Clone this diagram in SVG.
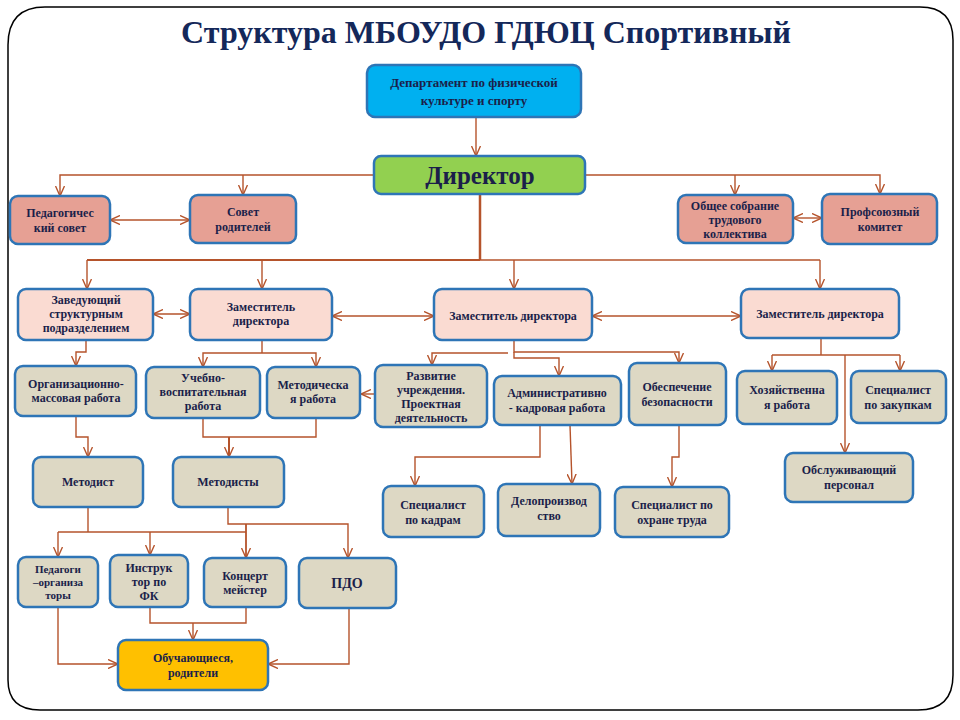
<svg xmlns="http://www.w3.org/2000/svg" width="960" height="720" viewBox="0 0 960 720" font-family="Liberation Serif, DejaVu Serif, serif">
<style>
.box{stroke:#2e75b6;stroke-width:2.5}
.dept{fill:#00b0f0}
.dir{fill:#92d050}
.cnl{fill:#e6a094}
.dep{fill:#fadbd2}
.wrk{fill:#ddd8c4}
.stu{fill:#ffc000}
text{font-family:'Liberation Serif','DejaVu Serif',serif;font-weight:bold;fill:#1b1f4a;text-anchor:middle}
.t{font-size:12px}
.c{fill:none;stroke:#b5532b;stroke-width:1.4}
.a{marker-end:url(#ah)}
.d{marker-start:url(#ah);marker-end:url(#ah)}
</style>
<defs>
<marker id="ah" viewBox="0 0 10 10" refX="10" refY="5" markerWidth="10" markerHeight="10" markerUnits="userSpaceOnUse" orient="auto-start-reverse">
<path d="M0,0.5 L10,5 L0,9.5" fill="none" stroke="#b5532b" stroke-width="1.4"/>
</marker>
</defs>
<rect width="960" height="720" fill="#ffffff"/>
<path d="M45,7 H920 Q953,7 953,40 V675 Q953,710 918,710 H40 Q8,710 8,680 V45 Q8,7 45,7 Z" fill="none" stroke="#000" stroke-width="1.5"/>
<text x="486" y="43" style="font-size:32px;fill:#14285a">Структура МБОУДО ГДЮЦ Спортивный</text>

<g id="connectors">
<path class="c a" d="M476,117 V156"/>
<path class="c a" d="M374,175 H60 V196"/>
<path class="c a" d="M243,175 V195"/>
<path class="c a" d="M585,175 H880 V194"/>
<path class="c a" d="M735,175 V195"/>
<path class="c d" d="M110,220 H190"/>
<path class="c d" d="M793,218 H822"/>
<path class="c" style="stroke-width:2.5" d="M480,194 V260"/>
<path class="c" style="stroke-width:2" d="M87,260 H480"/>
<path class="c" d="M480,260 H820"/>
<path class="c a" d="M87,260 V289"/>
<path class="c a" d="M262,260 V289"/>
<path class="c a" d="M514,260 V289"/>
<path class="c a" d="M820,260 V289"/>
<path class="c d" d="M153,314 H190"/>
<path class="c d" d="M332,316 H434"/>
<path class="c d" d="M592,316 H741"/>
<path class="c a" d="M86,340 V352 H76 V366"/>
<path class="c" d="M262,340 V353"/>
<path class="c a" d="M262,353 H203 V367"/>
<path class="c a" d="M262,353 H316 V367"/>
<path class="c a" d="M76,416 V437 H88 V457"/>
<path class="c" d="M203,418 V437 H316 V418"/>
<path class="c a" style="stroke-width:2" d="M229,437 V457"/>
<path class="c" d="M88,507 V532"/>
<path class="c" d="M58,532 H246"/>
<path class="c a" d="M58,532 V557"/>
<path class="c a" d="M150,532 V555"/>
<path class="c a" d="M228,507 V524 H348 V558"/>
<path class="c a" style="stroke-width:1.8" d="M246,524 V558"/>
<path class="c a" d="M58,607 V664 H118"/>
<path class="c" d="M150,607 V623 H246 V607"/>
<path class="c a" d="M193,623 V640"/>
<path class="c a" d="M349,608 V664 H268"/>
<path class="c a" d="M514,340 V352 H679 V363"/>
<path class="c a" d="M508,353 H432 V365"/>
<path class="c a" d="M514,352 V358 H559 V376"/>
<path class="c a" d="M375,394 H361"/>
<path class="c a" d="M540,425 V457 H415 V486"/>
<path class="c a" d="M570,425 L572,484"/>
<path class="c a" d="M679,425 V457 H672 V487"/>
<path class="c" d="M821,338 V355"/>
<path class="c" d="M772,355 H900"/>
<path class="c a" d="M772,355 V371"/>
<path class="c a" d="M900,355 V371"/>
<path class="c a" d="M845,355 V453"/>
</g>

<g id="n-dept"><rect class="box dept" x="367" y="65" width="214" height="52" rx="8"/>
<text style="font-size:13px" x="474" y="87">Департамент по физической</text><text style="font-size:13px" x="474" y="105">культуре и спорту</text></g>
<g id="n-dir"><rect class="box dir" x="374" y="156" width="211" height="38" rx="7"/>
<text style="font-size:25px" x="480" y="184">Директор</text></g>

<g id="n-ped"><rect class="box cnl" x="10" y="196" width="100" height="48" rx="8"/>
<text class="t" x="60" y="217">Педагогичес</text><text class="t" x="60" y="232">кий совет</text></g>
<g id="n-par"><rect class="box cnl" x="190" y="195" width="106" height="48" rx="8"/>
<text class="t" x="243" y="216">Совет</text><text class="t" x="243" y="231">родителей</text></g>
<g id="n-obsh"><rect class="box cnl" x="678" y="195" width="115" height="48" rx="8"/>
<text class="t" x="735" y="210">Общее собрание</text><text class="t" x="735" y="224">трудового</text><text class="t" x="735" y="238">коллектива</text></g>
<g id="n-prof"><rect class="box cnl" x="822" y="194" width="115" height="50" rx="8"/>
<text class="t" x="880" y="216">Профсоюзный</text><text class="t" x="880" y="231">комитет</text></g>

<g id="n-zav"><rect class="box dep" x="18" y="289" width="135" height="51" rx="8"/>
<text class="t" x="86" y="304">Заведующий</text><text class="t" x="86" y="318">структурным</text><text class="t" x="86" y="332">подразделением</text></g>
<g id="n-zam1"><rect class="box dep" x="190" y="289" width="142" height="51" rx="8"/>
<text class="t" x="261" y="311">Заместитель</text><text class="t" x="261" y="325">директора</text></g>
<g id="n-zam2"><rect class="box dep" x="434" y="289" width="158" height="51" rx="8"/>
<text class="t" x="513" y="320">Заместитель директора</text></g>
<g id="n-zam3"><rect class="box dep" x="741" y="289" width="158" height="49" rx="8"/>
<text class="t" x="820" y="318">Заместитель директора</text></g>

<g id="n-org"><rect class="box wrk" x="15" y="366" width="121" height="50" rx="8"/>
<text class="t" x="76" y="388">Организационно-</text><text class="t" x="76" y="402">массовая работа</text></g>
<g id="n-ucheb"><rect class="box wrk" x="146" y="367" width="114" height="51" rx="8"/>
<text class="t" x="203" y="382">Учебно-</text><text class="t" x="203" y="396">воспитательная</text><text class="t" x="203" y="410">работа</text></g>
<g id="n-metod"><rect class="box wrk" x="267" y="367" width="93" height="51" rx="8"/>
<text class="t" x="313" y="389">Методическа</text><text class="t" x="313" y="403">я работа</text></g>
<g id="n-razv"><rect class="box wrk" x="375" y="365" width="112" height="62" rx="8"/>
<text class="t" x="431" y="380">Развитие</text><text class="t" x="431" y="394">учреждения.</text><text class="t" x="431" y="408">Проектная</text><text class="t" x="431" y="422">деятельность</text></g>
<g id="n-adm"><rect class="box wrk" x="494" y="376" width="127" height="49" rx="8"/>
<text class="t" x="557" y="397">Административно</text><text class="t" x="557" y="412">- кадровая работа</text></g>
<g id="n-bez"><rect class="box wrk" x="629" y="363" width="97" height="62" rx="8"/>
<text class="t" x="677" y="391">Обеспечение</text><text class="t" x="677" y="406">безопасности</text></g>
<g id="n-hoz"><rect class="box wrk" x="737" y="371" width="100" height="53" rx="8"/>
<text class="t" x="787" y="394">Хозяйственна</text><text class="t" x="787" y="409">я работа</text></g>
<g id="n-zak"><rect class="box wrk" x="851" y="371" width="95" height="52" rx="8"/>
<text class="t" x="898" y="394">Специалист</text><text class="t" x="898" y="409">по закупкам</text></g>

<g id="n-metodist"><rect class="box wrk" x="33" y="457" width="110" height="50" rx="8"/>
<text class="t" x="88" y="486">Методист</text></g>
<g id="n-metodisty"><rect class="box wrk" x="173" y="457" width="111" height="50" rx="8"/>
<text class="t" x="228" y="486">Методисты</text></g>
<g id="n-kadr"><rect class="box wrk" x="383" y="486" width="101" height="51" rx="8"/>
<text class="t" x="433" y="509">Специалист</text><text class="t" x="433" y="524">по кадрам</text></g>
<g id="n-delo"><rect class="box wrk" x="498" y="484" width="102" height="52" rx="8"/>
<text class="t" x="549" y="505">Делопроизвод</text><text class="t" x="549" y="520">ство</text></g>
<g id="n-ohr"><rect class="box wrk" x="615" y="487" width="114" height="50" rx="8"/>
<text class="t" x="672" y="509">Специалист по</text><text class="t" x="672" y="524">охране труда</text></g>
<g id="n-obsl"><rect class="box wrk" x="785" y="453" width="128" height="49" rx="8"/>
<text class="t" x="849" y="474">Обслуживающий</text><text class="t" x="849" y="489">персонал</text></g>

<g id="n-pedorg"><rect class="box wrk" x="18" y="557" width="80" height="50" rx="8"/>
<text style="font-size:11px" x="58" y="573">Педагоги</text><text style="font-size:11px" x="58" y="586">–организа</text><text style="font-size:11px" x="58" y="599">торы</text></g>
<g id="n-instr"><rect class="box wrk" x="110" y="555" width="78" height="52" rx="8"/>
<text class="t" x="149" y="572">Инструк</text><text class="t" x="149" y="586">тор по</text><text class="t" x="149" y="600">ФК</text></g>
<g id="n-konc"><rect class="box wrk" x="204" y="558" width="82" height="49" rx="8"/>
<text class="t" x="245" y="580">Концерт</text><text class="t" x="245" y="594">мейстер</text></g>
<g id="n-pdo"><rect class="box wrk" x="299" y="558" width="97" height="50" rx="8"/>
<text style="font-size:14px" x="347" y="588">ПДО</text></g>
<g id="n-stud"><rect class="box stu" x="118" y="640" width="150" height="50" rx="8"/>
<text class="t" x="193" y="662">Обучающиеся,</text><text class="t" x="193" y="677">родители</text></g>
</svg>
